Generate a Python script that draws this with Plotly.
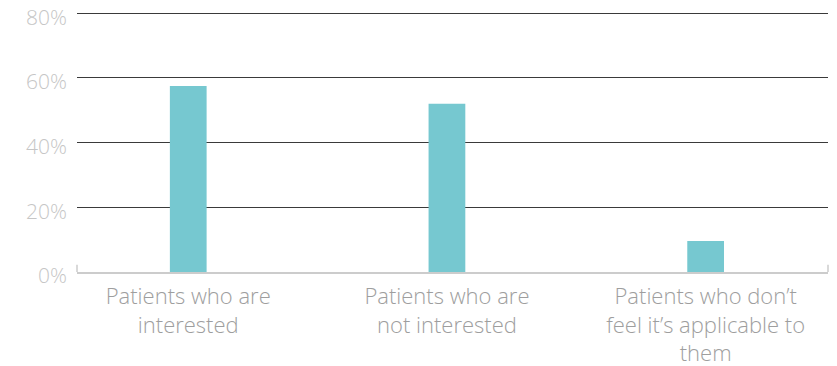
import plotly.graph_objects as go

categories = ["Patients who are<br>interested", "Patients who are<br>not interested",
              "Patients who don’t<br>feel it’s applicable to<br>them"]
values = [57.5, 52, 9.6]
y_ticks = [0, 20, 40, 60, 80]
y_tick_labels = ["0%", "20%", "40%", "60%", "80%"]

fig = go.Figure(go.Bar(x=categories, y=values, marker_color="#76C8D0",
                       marker_line_width=0, width=0.142))

fig.update_layout(
    width=837, height=366,
    margin=dict(l=77, r=9, t=10, b=94),
    paper_bgcolor="white", plot_bgcolor="white",
    showlegend=False,
    font=dict(family="Open Sans", weight=300),
    xaxis=dict(range=[-0.43, 2.473], showgrid=False, zeroline=False, automargin=False,
               showline=True, linecolor="#cccccc", linewidth=1.5,
               ticks="", ticklabelstandoff=4, ticklabeloverflow="allow",
               tickfont=dict(size=22, color="#9e9e9e", family="Open Sans", weight=300)),
    yaxis=dict(range=[0, 81], tickvals=y_ticks, ticktext=y_tick_labels, automargin=False,
               showgrid=True, gridcolor="#3a3a3a", gridwidth=1, ticklabeloverflow="allow",
               zeroline=False, showline=False, ticks="", ticklabelstandoff=9,
               ticklabelshift=4,
               tickfont=dict(size=21, color="#c6c6c6", family="Open Sans", weight=300)),
    shapes=[
        dict(type="line", xref="paper", yref="y domain", x0=0, x1=0, y0=0, y1=0.028,
             line=dict(color="#cccccc", width=1.5)),
        dict(type="line", xref="paper", yref="y domain", x0=1, x1=1, y0=0, y1=0.028,
             line=dict(color="#cccccc", width=1.5)),
    ],
)

fig.write_html("out.html", config={"displayModeBar": False},
               post_script="document.body.style.margin='0';")
